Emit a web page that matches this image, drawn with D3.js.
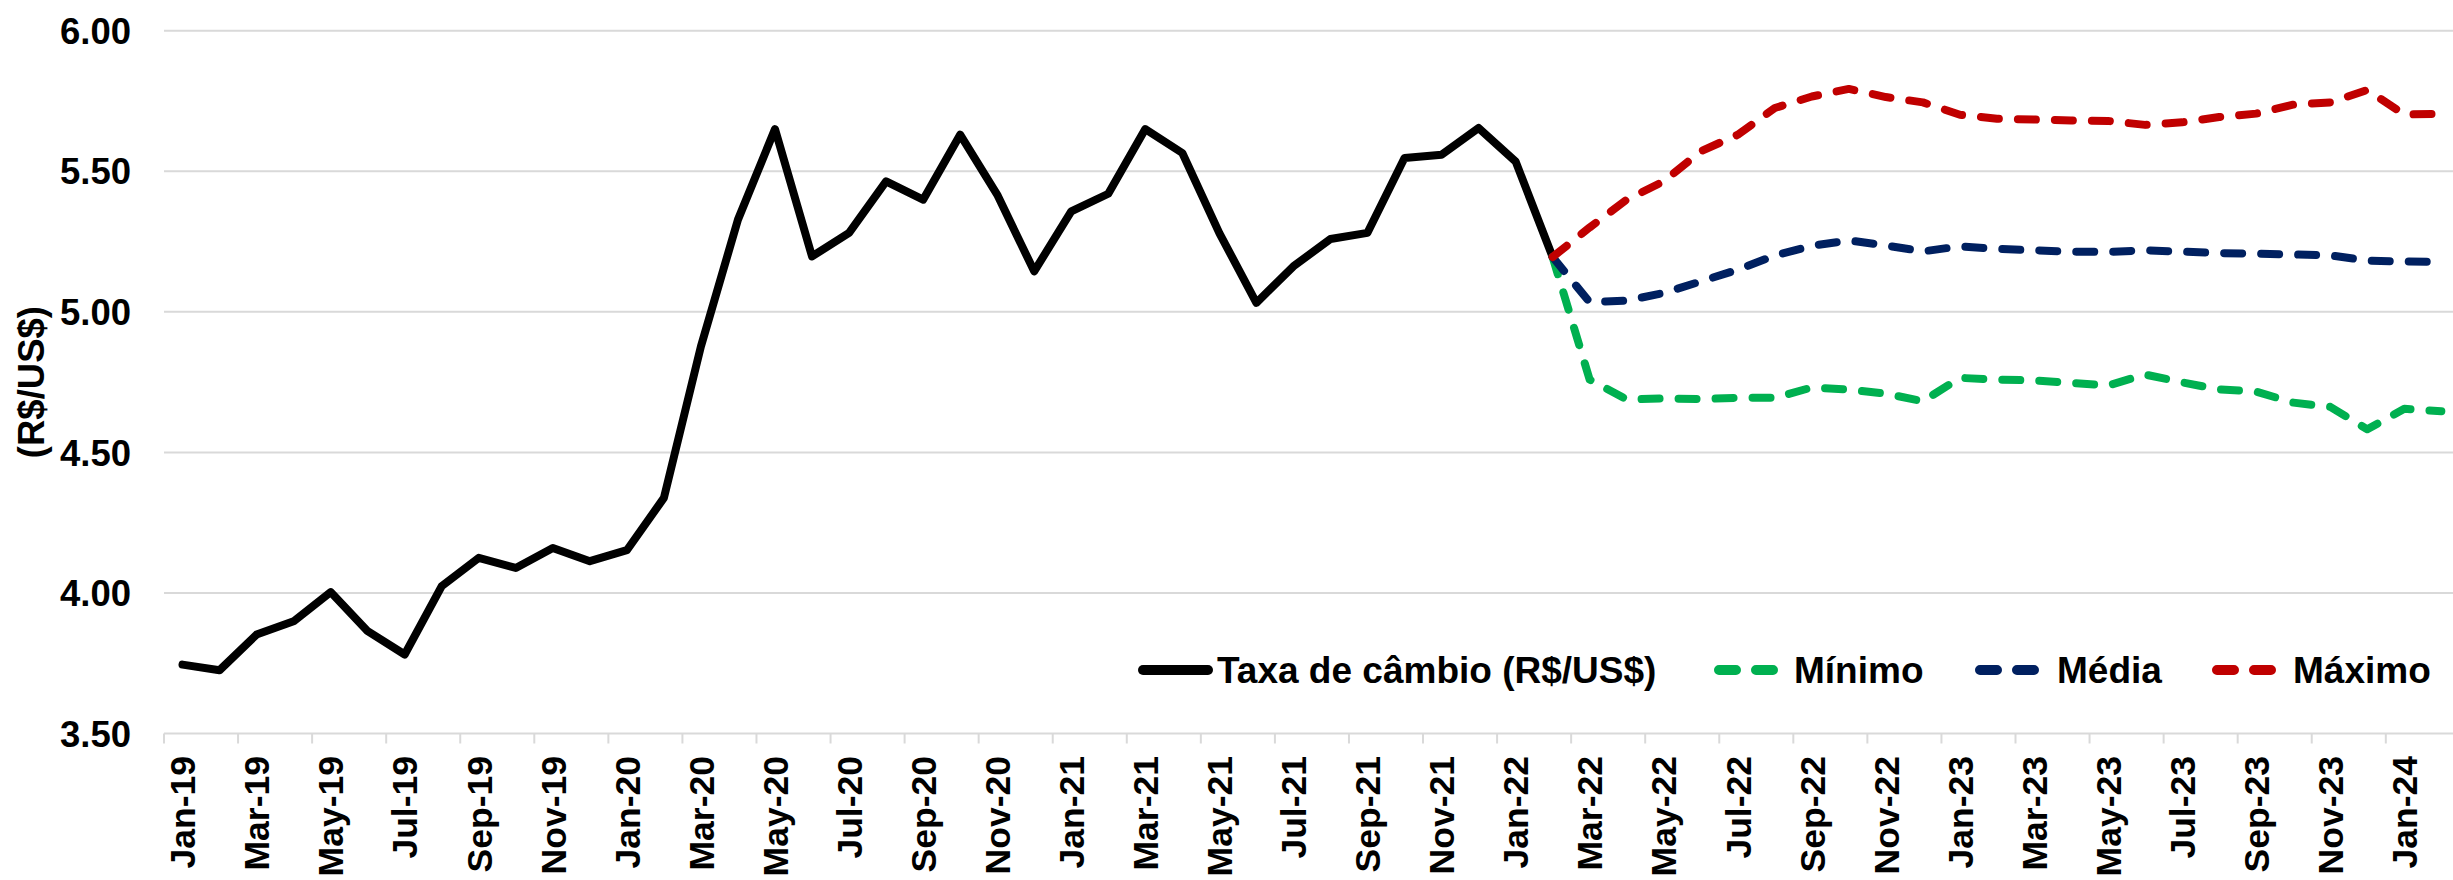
<!DOCTYPE html>
<html>
<head>
<meta charset="utf-8">
<script src="https://cdn.jsdelivr.net/npm/d3@7"></script>
<style>
  body { margin: 0; background: #fff; }
  text { font-family: "Liberation Sans", Arial, sans-serif; font-weight: bold; fill: #000; }
</style>
</head>
<body>
<div id="chart"></div>
<script>
// Month categories, Jan-19 to Feb-24
const months = d3.timeMonth.range(new Date(2019, 0, 1), new Date(2024, 2, 1))
    .map(d3.timeFormat("%b-%y"));

// Exchange rate, Jan-19 .. Feb-22
const cambio = [3.745, 3.725, 3.852, 3.899, 4.003, 3.864, 3.781, 4.024, 4.125, 4.089,
    4.160, 4.113, 4.152, 4.338, 4.877, 5.328, 5.650, 5.197, 5.281, 5.464,
    5.399, 5.630, 5.417, 5.144, 5.357, 5.420, 5.650, 5.565, 5.280, 5.032,
    5.162, 5.259, 5.281, 5.547, 5.559, 5.654, 5.535, 5.195];

// Forecasts, Feb-22 .. Feb-24
const forecastStart = "Feb-22";
const minimo = [5.195, 4.759, 4.688, 4.692, 4.690, 4.694, 4.694, 4.731, 4.723, 4.709,
    4.682, 4.765, 4.759, 4.756, 4.747, 4.738, 4.777, 4.749, 4.724, 4.716,
    4.677, 4.662, 4.582, 4.655, 4.646];
const media = [5.195, 5.034, 5.040, 5.067, 5.108, 5.150, 5.200, 5.235, 5.254, 5.236,
    5.215, 5.233, 5.224, 5.219, 5.214, 5.213, 5.219, 5.214, 5.209, 5.207,
    5.204, 5.201, 5.182, 5.179, 5.178];
const maximo = [5.195, 5.300, 5.399, 5.464, 5.571, 5.630, 5.725, 5.766, 5.793, 5.764,
    5.745, 5.701, 5.687, 5.684, 5.681, 5.679, 5.665, 5.674, 5.693, 5.705,
    5.737, 5.745, 5.789, 5.702, 5.704];

const yTicks = [3.5, 4, 4.5, 5, 5.5, 6];

const width = 2453;
const height = 880;
const left = 164;
const step = 37.03;
const right = left + step * months.length;

const svg = d3.select("#chart")
    .append("svg")
    .attr("width", width)
    .attr("height", height);

const x = d3.scaleBand()
    .domain(months)
    .range([left, right])
    .padding(0);
const bw = x.bandwidth();

const y = d3.scaleLinear()
    .domain([3.5, 6])
    .range([733.5, 30.7]);

// gridlines
svg.append("g")
    .selectAll("line")
    .data(yTicks)
    .enter()
    .append("line")
    .attr("x1", left)
    .attr("x2", right)
    .attr("y1", d => y(d))
    .attr("y2", d => y(d))
    .attr("stroke", "#d9d9d9")
    .attr("stroke-width", 2);

// y labels
svg.append("g")
    .selectAll("text")
    .data(yTicks)
    .enter()
    .append("text")
    .attr("x", 131)
    .attr("y", d => y(d))
    .attr("dy", "0.36em")
    .attr("text-anchor", "end")
    .style("font-size", "36.5px")
    .text(d => d3.format(".2f")(d));

// y title
svg.append("text")
    .attr("transform", `translate(31,${(y(3.5) + y(6)) / 2}) rotate(-90)`)
    .attr("text-anchor", "middle")
    .attr("dy", "0.36em")
    .style("font-size", "36.5px")
    .text("(R$/US$)");

// x axis
const xAxis = svg.append("g")
    .attr("transform", `translate(0,${y(3.5)})`)
    .call(d3.axisBottom(x)
        .tickValues(months.filter((d, i) => i % 2 === 0))
        .tickSize(10));
xAxis.select(".domain").remove();
xAxis.selectAll(".tick line")
    .attr("x1", -bw / 2)
    .attr("x2", -bw / 2)
    .attr("stroke", "#d9d9d9")
    .attr("stroke-width", 2);
xAxis.selectAll(".tick text")
    .attr("transform", "rotate(-90)")
    .attr("x", -22.5)
    .attr("y", 0)
    .attr("dy", "0.36em")
    .attr("text-anchor", "end")
    .attr("fill", "#000")
    .style("font-family", "'Liberation Sans', Arial, sans-serif")
    .style("font-weight", "bold")
    .style("font-size", "35.5px");

// lines
const offset = months.indexOf(forecastStart);
const lineFrom = start => d3.line()
    .x((d, i) => x(months[start + i]) + bw / 2)
    .y(d => y(d));

const series = [
    { values: cambio, start: 0, color: "#000000", dash: null },
    { values: minimo, start: offset, color: "#00B050", dash: "18 19" },
    { values: media, start: offset, color: "#002060", dash: "18 19" },
    { values: maximo, start: offset, color: "#C00000", dash: "18 19" }
];

svg.append("g")
    .selectAll("path")
    .data(series)
    .enter()
    .append("path")
    .attr("d", d => lineFrom(d.start)(d.values))
    .attr("fill", "none")
    .attr("stroke", d => d.color)
    .attr("stroke-width", 8)
    .attr("stroke-linejoin", "round")
    .attr("stroke-linecap", "round")
    .attr("stroke-dasharray", d => d.dash);

// legend
const legend = [
    { label: "Taxa de câmbio (R$/US$)", color: "#000000", dash: null, x1: 1143, x2: 1208, tx: 1217 },
    { label: "Mínimo", color: "#00B050", dash: "17 20", x1: 1719, x2: 1773, tx: 1794 },
    { label: "Média", color: "#002060", dash: "17 20", x1: 1980, x2: 2035, tx: 2057 },
    { label: "Máximo", color: "#C00000", dash: "17 20", x1: 2217, x2: 2271, tx: 2293 }
];

const lg = svg.append("g")
    .selectAll("g")
    .data(legend)
    .enter()
    .append("g");

lg.append("line")
    .attr("x1", d => d.x1)
    .attr("x2", d => d.x2)
    .attr("y1", 670)
    .attr("y2", 670)
    .attr("stroke", d => d.color)
    .attr("stroke-width", 10)
    .attr("stroke-linecap", "round")
    .attr("stroke-dasharray", d => d.dash);

lg.append("text")
    .attr("x", d => d.tx)
    .attr("y", 670)
    .attr("dy", "0.36em")
    .style("font-size", "37px")
    .text(d => d.label);
</script>
</body>
</html>
